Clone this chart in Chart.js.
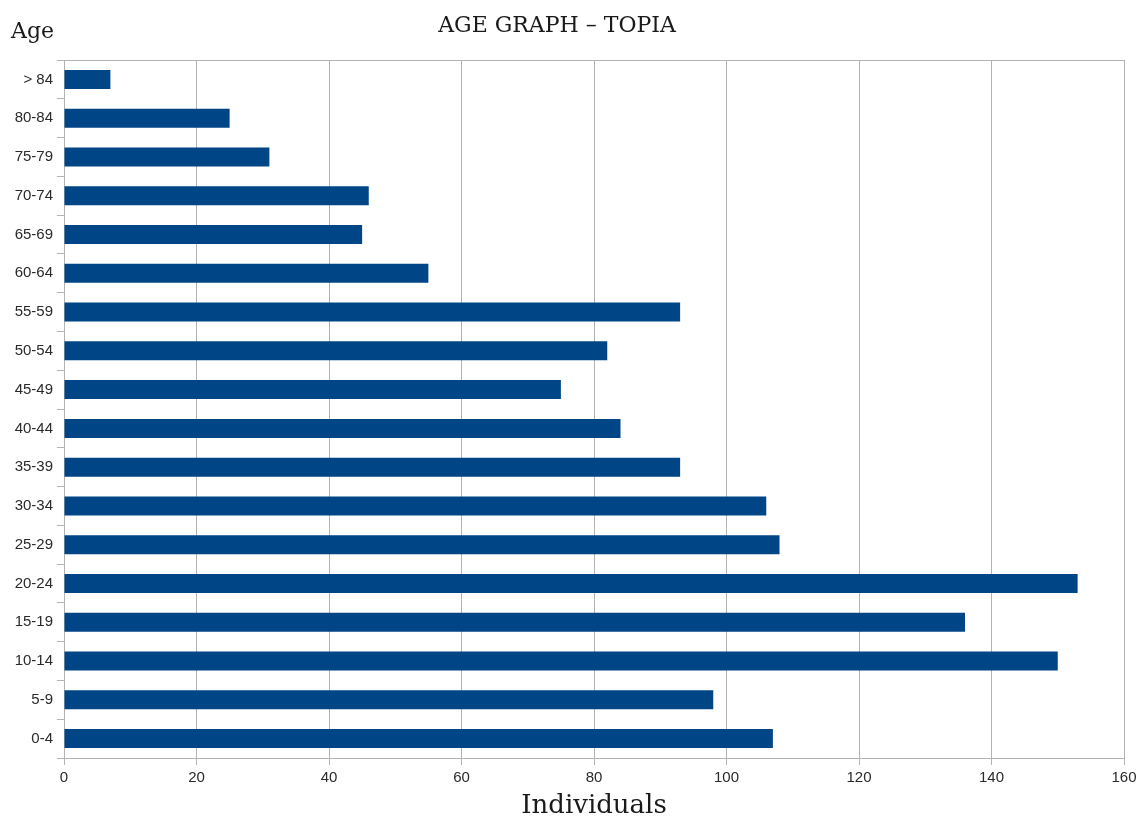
<!DOCTYPE html>
<html>
<head>
<meta charset="utf-8">
<title>Age Graph - Topia</title>
<script src="https://cdn.jsdelivr.net/npm/chart.js@4/dist/chart.umd.min.js"></script>
<style>
  html, body { margin: 0; padding: 0; background: #ffffff; }
  #wrap { width: 1138px; height: 821px; position: relative; }
</style>
</head>
<body>
<div id="wrap"><canvas id="chart" width="1138" height="821"></canvas></div>
<script>
// Age groups, oldest at the top
const ageGroups = ['> 84', '80-84', '75-79', '70-74', '65-69', '60-64', '55-59', '50-54', '45-49',
                   '40-44', '35-39', '30-34', '25-29', '20-24', '15-19', '10-14', '5-9', '0-4'];
// Number of individuals per age group
const individuals = [7, 25, 31, 46, 45, 55, 93, 82, 75, 84, 93, 106, 108, 153, 136, 150, 98, 107];
// Value axis ticks
const xTicks = [0, 20, 40, 60, 80, 100, 120, 140, 160];

const chartTitle = 'AGE GRAPH \u2013 TOPIA';
const yAxisTitle = 'Age';
const xAxisTitle = 'Individuals';

const gridGray = '#b3b3b3';
const barBlue = '#004586';
const serif = '"DejaVu Serif", serif';
const sans = '"Liberation Sans", Arial, sans-serif';

// Title and the horizontal "Age" caption
const captions = {
  id: 'captions',
  afterDraw(chart) {
    const ctx = chart.ctx;
    ctx.save();
    ctx.fillStyle = '#1a1a1a';
    ctx.textBaseline = 'alphabetic';
    ctx.font = '22px ' + serif;
    ctx.textAlign = 'center';
    ctx.fillText(chartTitle, 557, 32);
    ctx.font = '22px ' + serif;
    ctx.textAlign = 'left';
    ctx.fillText(yAxisTitle, 11, 38);
    ctx.restore();
  }
};

new Chart(document.getElementById('chart'), {
  type: 'bar',
  data: {
    labels: ageGroups,
    datasets: [{
      data: individuals,
      backgroundColor: barBlue,
      borderWidth: 0,
      barPercentage: 0.49,
      categoryPercentage: 1.0
    }]
  },
  plugins: [captions],
  options: {
    indexAxis: 'y',
    responsive: false,
    animation: false,
    layout: { padding: { left: 0, top: 60, right: 14, bottom: 0 } },
    plugins: {
      legend: { display: false },
      title: { display: false },
      tooltip: { enabled: false }
    },
    scales: {
      x: {
        min: 0,
        max: 160,
        afterBuildTicks(scale) { scale.ticks = xTicks.map(v => ({ value: v })); },
        afterFit(scale) {
          scale.height = 63;
          scale.paddingLeft = 0;
          scale.paddingRight = 0;
        },
        grid: { color: gridGray, tickColor: gridGray, tickLength: 7, lineWidth: 1 },
        border: { color: gridGray },
        ticks: { color: '#2a2a2a', font: { family: sans, size: 15 }, padding: 4, maxRotation: 0 },
        title: {
          display: true,
          text: xAxisTitle,
          color: '#1a1a1a',
          font: { family: serif, size: 26 },
          padding: { top: 0, bottom: -1 }
        }
      },
      y: {
        afterFit(scale) { scale.width = 64; },
        grid: {
          offset: true,
          color: ctx => (ctx.index === 0 ? gridGray : 'rgba(0,0,0,0)'),
          tickColor: gridGray,
          tickLength: 7,
          lineWidth: 1
        },
        border: { color: gridGray },
        ticks: { color: '#2a2a2a', font: { family: sans, size: 15 }, padding: 4, autoSkip: false }
      }
    }
  }
});
</script>
</body>
</html>
